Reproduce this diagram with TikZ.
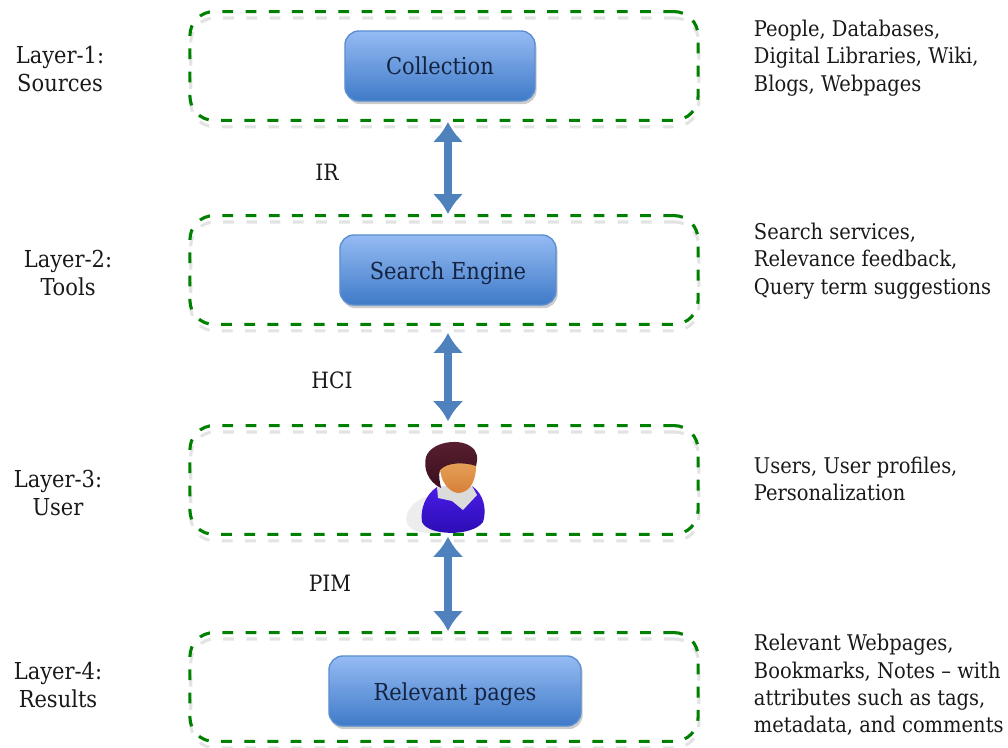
\documentclass[tikz,border=0pt]{standalone}
\usepackage{fontspec}
\setmainfont{DejaVu Serif Condensed}
\usetikzlibrary{arrows.meta,shadows}

\tikzset{
  layerbox/.style={draw=green!50!black,line width=2.2pt,dash pattern=on 0.27cm off 0.31cm,rounded corners=0.6cm,
    minimum width=12.7cm,minimum height=2.72cm,
    copy shadow={draw=black!11,shadow xshift=0.02cm,shadow yshift=-0.16cm,fill=none}},
  stepnode/.style={draw=boxline,line width=1pt,rounded corners=0.35cm,minimum height=1.75cm,
    top color=boxtop,bottom color=boxbottom,text=boxtext,text height=0.5cm,text depth=0.05cm,
    font=\fontsize{16.6}{19}\selectfont,
    drop shadow={opacity=0.4,shadow xshift=0.04cm,shadow yshift=-0.08cm}},
  linkarrow/.style={{Latex[length=0.5cm,width=0.78cm]}-{Latex[length=0.5cm,width=0.78cm]},draw=linkblue,line width=5pt},
  layerlabel/.style={align=center,font=\fontsize{16.6}{20.5}\selectfont,text=black!90},
  linklabel/.style={font=\fontsize{16}{19}\selectfont,text=black!90},
  notelabel/.style={anchor=west,align=left,font=\fontsize{15.4}{19.5}\selectfont,text=black!90}
}
\definecolor{boxtop}{HTML}{95BBF3}
\definecolor{boxbottom}{HTML}{3F7AC8}
\definecolor{boxline}{HTML}{5B8FD0}
\definecolor{boxtext}{HTML}{14233F}
\definecolor{linkblue}{HTML}{4F81BD}
\definecolor{hairtone}{HTML}{3A0F1E}
\definecolor{hairlight}{HTML}{5A2030}
\definecolor{skintop}{HTML}{E8A860}
\definecolor{skinlow}{HTML}{D88038}
\definecolor{shirttone}{HTML}{4A1CE8}
\definecolor{shirtdark}{HTML}{2A0CB0}

\begin{document}
\begin{tikzpicture}[x=0.025cm,y=-0.025cm]
    \useasboundingbox (0,0) rectangle (1008,748);

    % dashed layers
    \node[layerbox] (sources) at (444,66) {};
    \node[layerbox] (tools) at (444,270) {};
    \node[layerbox] (user) at (444,480) {};
    \node[layerbox] (results) at (444,687) {};

    % boxes
    \node[stepnode,minimum width=4.75cm] (collection) at (440,66) {Collection};
    \node[stepnode,minimum width=5.4cm] (engine) at (448,270) {Search Engine};
    \node[stepnode,minimum width=6.3cm] (pages) at (455,691) {Relevant pages};

    % the person
    \fill[black!7] (425,497) .. controls (408,503) and (400,522) .. (412,529)
      .. controls (420,534) and (440,535) .. (450,530) -- cycle;
    \shade[top color=shirttone,bottom color=shirtdark] (437,487) .. controls (425,495) and (420,510) .. (422,522)
      .. controls (428,536) and (472,537) .. (483,522)
      .. controls (487,510) and (484,494) .. (472,486) -- cycle;
    \fill[black!14] (437,487) -- (438,498) -- (452,501) -- (463,510) -- (477,495) -- (472,486) -- cycle;
    \shade[top color=skintop,bottom color=skinlow] (440,467) .. controls (440,480) and (448,492) .. (458,493)
      .. controls (470,493) and (477,480) .. (476,462) -- (460,455) -- cycle;
    \shade[top color=hairlight,bottom color=hairtone] (441,488) .. controls (428,482) and (423,468) .. (426,457)
      .. controls (431,442) and (458,438) .. (470,446)
      .. controls (478,451) and (478,458) .. (476,466)
      .. controls (465,462) and (447,462) .. (440,470)
      .. controls (438,476) and (440,482) .. (441,488) -- cycle;

    % arrows between layers
    \draw[linkarrow] ([xshift=0.1cm]sources.south) -- ([xshift=0.1cm]tools.north);
    \draw[linkarrow,shorten >=2pt,shorten <=5pt] ([xshift=0.1cm]tools.south) -- ([xshift=0.1cm]user.north);
    \draw[linkarrow] ([xshift=0.1cm,yshift=-0.02cm]user.south) -- ([xshift=0.1cm]results.north);

    \node[linklabel] (ir) at (327,172) {IR};
    \node[linklabel] (hci) at (332,380) {HCI};
    \node[linklabel] (pim) at (330,583) {PIM};

    % left column
    \node[layerlabel] (l1) at (60,69) {Layer-1:\\Sources};
    \node[layerlabel] (l2) at (68,273) {Layer-2:\\Tools};
    \node[layerlabel] (l3) at (58,493) {Layer-3:\\User};
    \node[layerlabel] (l4) at (58,685) {Layer-4:\\Results};

    % right column
    \node[notelabel] (n1) at (749,58) {People, Databases,\\Digital Libraries, Wiki,\\Blogs, Webpages};
    \node[notelabel] (n2) at (749,261) {Search services,\\Relevance feedback,\\Query term suggestions};
    \node[notelabel] (n3) at (749,479) {Users, User profiles,\\Personalization};
    \node[notelabel] (n4) at (749,685) {Relevant Webpages,\\Bookmarks, Notes -- with\\attributes such as tags,\\metadata, and comments};
\end{tikzpicture}
\end{document}
